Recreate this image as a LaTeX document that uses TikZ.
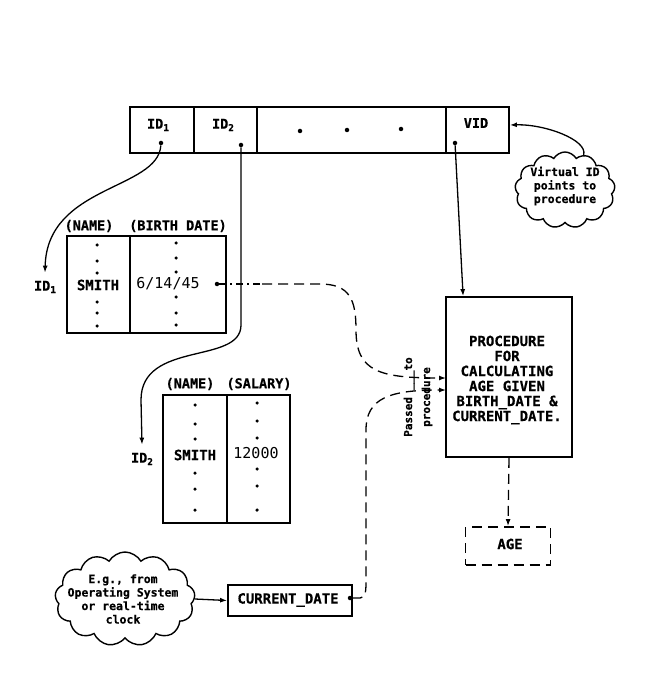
\documentclass[tikz,border=0pt]{standalone}
\usepackage{fontspec}
\newfontfamily\tw{DejaVu Sans Mono}[BoldFeatures={FakeBold=0.5}]
\usetikzlibrary{arrows.meta,shapes.symbols}
\newcommand{\lowidx}[1]{\raisebox{-2.5pt}{\fontsize{9.5}{9.5}\selectfont #1}}
\tikzset{
  box/.style={draw, line width=1.8pt, inner sep=0pt},
  conn/.style={line width=1.3pt, -{Latex[length=7pt,width=5pt]}},
  dsh/.style={dash pattern=on 10pt off 6pt},
  lbl/.style={font=\tw\bfseries\fontsize{13.5}{15}\selectfont, inner sep=0pt},
  big/.style={font=\tw\bfseries\fontsize{14}{15}\selectfont, inner sep=0pt},
  val/.style={font=\tw\fontsize{15}{15}\selectfont, inner sep=0pt},
  small/.style={font=\tw\bfseries\fontsize{11.5}{13.5}\selectfont, inner sep=0pt, align=center},
  dot/.style={circle, fill, inner sep=0pt, minimum size=4.5pt},
  pt/.style={circle, fill, inner sep=0pt, minimum size=3.5pt},
  cloudy/.style={cloud, draw, line width=1.4pt, cloud puffs=13, cloud puff arc=120, cloud ignores aspect, inner sep=0pt}
}
\begin{document}
\begin{tikzpicture}[x=1pt,y=-1pt]
\useasboundingbox[fill=white] (0,0) rectangle (654,700);

% top record
\node[box, minimum width=64pt, minimum height=46pt] (r1) at (162,130) {};
\node[box, minimum width=63pt, minimum height=46pt] (r2) at (225.5,130) {};
\node[box, minimum width=189pt, minimum height=46pt] (r3) at (351.5,130) {};
\node[box, minimum width=63pt, minimum height=46pt] (r4) at (477.5,130) {};
\node[lbl] (r1t) at (158,125) {ID\lowidx{1}};
\node[lbl] (r2t) at (223,125) {ID\lowidx{2}};
\node[lbl] (r4t) at (476,123) {VID};
\node[dot] (rd1) at (300,131) {};
\node[dot] (rd2) at (347,130) {};
\node[dot] (rd3) at (401,129) {};
\node[dot] (p1) at (161,143) {};
\node[dot] (p2) at (241,145) {};
\node[dot] (p4) at (455,143) {};

% cloud 1
\node[cloudy, minimum width=100pt, minimum height=76pt] (cl1) at (565,190) {};
\node[small] (cl1t) at (565,186) {Virtual ID\\points to\\procedure};
\draw[conn] (cl1.62) .. controls (588,140) and (545,124) .. ([yshift=5pt]r4.east);

% table 1
\node[lbl] (h1a) at (89,226) {(NAME)};
\node[lbl] (h1b) at (178,226) {(BIRTH DATE)};
\node[box, minimum width=63pt, minimum height=97pt] (t1a) at (98.5,284.5) {};
\node[box, minimum width=96pt, minimum height=97pt] (t1b) at (178,284.5) {};
\node[big] (s1) at (98,285) {SMITH};
\node[val] (bd) at (168,284) {6/14/45};
\foreach \y [count=\i] in {245,261,273,302,313,326} \node[pt] (a\i) at (97,\y) {};
\foreach \y [count=\i] in {243,258,272,297,313,325} \node[pt] (b\i) at (176,\y) {};
\node[dot] (p3) at (217,284) {};
\node[lbl] (L1) at (45,287) {ID\lowidx{1}};

% table 2
\node[lbl] (h2a) at (190,384) {(NAME)};
\node[lbl] (h2b) at (259,384) {(SALARY)};
\node[box, minimum width=64pt, minimum height=128pt] (t2a) at (195,459) {};
\node[box, minimum width=63pt, minimum height=128pt] (t2b) at (258.5,459) {};
\node[big] (s2) at (195,455) {SMITH};
\node[val] (sal) at (256,453) {12000};
\foreach \y [count=\i] in {405,424,439,473,489,510} \node[pt] (c\i) at (195,\y) {};
\foreach \y [count=\i] in {403,421,438,469,486,510} \node[pt] (d\i) at (257,\y) {};
\node[lbl] (L2) at (142,459) {ID\lowidx{2}};

% pointers
\draw[conn] (p1) .. controls (158,190) and (47,185) .. ([yshift=8pt]L1.north);
\draw[conn] (p2) -- (241,325) .. controls (241,365) and (141,340) .. (141,400) -- ([yshift=8pt]L2.north);

% procedure
\node[box, minimum width=126pt, minimum height=160pt] (proc) at (509,377) {};
\node[big, align=center] (proct) at (507,380) {PROCEDURE\\FOR\\ CALCULATING\\ AGE GIVEN\\BIRTH\_DATE \&\\CURRENT\_DATE.};
\draw[conn] (p4) -- ([xshift=18pt]proc.north west);
\coordinate (in1) at (446,378);
\coordinate (in2) at (446,390);
\node[font=\tw\bfseries\fontsize{11}{18}\selectfont, inner sep=0pt, align=center, rotate=90] (passed) at (418,397) {Passed \_\_\_to\\procedure};

% data flows
\coordinate (k1) at (262,284);
\draw[line width=1.3pt, dash pattern=on 7pt off 4pt on 2pt off 4pt] (p3) -- (k1);
\draw[conn, dsh] (k1) -- (320,284) .. controls (350,284) and (356,300) .. (356,330) .. controls (356,372) and (380,378) .. (in1);

% current date
\node[box, minimum width=124pt, minimum height=31pt] (cd) at (290,600.5) {};
\node[big] (cdt) at (288,600) {CURRENT\_DATE};
\node[dot] (p5) at (350,598) {};
\draw[conn, dsh] (p5) -- (360,598) .. controls (366,598) and (366,590) .. (366,580) -- (366,430) .. controls (366,398) and (390,390) .. (in2);

% cloud 2
\node[cloudy, minimum width=140pt, minimum height=94pt] (cl2) at (125,599) {};
\node[small] (cl2t) at (123,599) {E.g., from\\Operating System\\or real-time\\clock};
\draw[conn] (cl2.east) -- (cd.west);

% age
\node[box, dsh, minimum width=85pt, minimum height=38pt] (age) at (508,546) {};
\node[big] (aget) at (510,544) {AGE};
\draw[conn, dsh] (proc.south) -- (age.north);
\end{tikzpicture}
\end{document}
